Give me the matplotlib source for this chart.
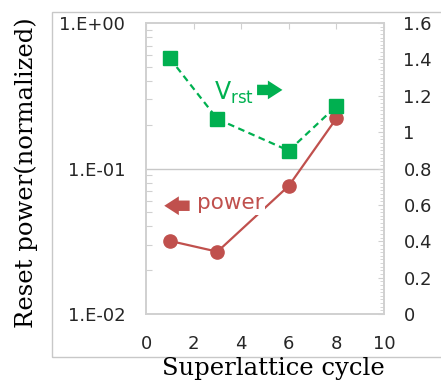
import numpy as np
import matplotlib.pyplot as plt
from matplotlib.patches import Rectangle
from matplotlib.ticker import MultipleLocator, LogLocator, NullFormatter

# data
cycles = [1, 3, 6, 8]
power = [0.0318, 0.0268, 0.076, 0.221]   # left axis, log
vrst = [1.406, 1.072, 0.898, 1.143]      # right axis, linear
left_ticks = [0.01, 0.1, 1.0]
left_labels = ["1.E-02", "1.E-01", "1.E+00"]

green = "#00b050"
red = "#c0504d"
spine_col = "#d0d0d0"
txt_col = "#262626"

fig = plt.figure(figsize=(4.41, 3.83), dpi=100)

# light outer frame
fig.patches.append(Rectangle((52 / 441, 1 - 357 / 383), 1.0, 345 / 383,
                             transform=fig.transFigure, fill=False,
                             edgecolor="#c8c8c8", linewidth=1.0))

ax = fig.add_axes([146 / 441, 1 - 314 / 383, 238 / 441, 291 / 383])
ax.set_yscale("log")
ax.set_ylim(0.01, 1.0)
ax.set_xlim(0, 10)
ax.set_yticks(left_ticks)
ax.set_yticklabels(left_labels)
ax.yaxis.set_minor_locator(LogLocator(base=10, subs=np.arange(2, 10)))
ax.yaxis.set_minor_formatter(NullFormatter())
ax.set_xticks([0, 2, 4, 6, 8, 10])
ax.axhline(0.1, color="#c8c8c8", linewidth=1.0, zorder=1)

ax.tick_params(axis="y", which="major", length=0, pad=15, labelsize=13,
               labelcolor=txt_col)
ax.tick_params(axis="y", which="minor", direction="in", length=4,
               color=spine_col, width=0.8)
ax.tick_params(axis="x", which="major", direction="in", length=4,
               color=spine_col, width=0.8, top=True, bottom=False,
               pad=15, labelsize=13, labelcolor=txt_col)
for s in ax.spines.values():
    s.set_color(spine_col)
    s.set_linewidth(1.2)

ax.plot(cycles, power, color=red, marker="o", markersize=9.5,
        linewidth=1.6, zorder=3)

ax2 = ax.twinx()
ax2.set_ylim(0, 1.6)
ax2.yaxis.set_minor_locator(MultipleLocator(0.02))
ax2.set_yticks([0, 0.2, 0.4, 0.6, 0.8, 1.0, 1.2, 1.4, 1.6])
ax2.set_yticklabels(["0", "0.2", "0.4", "0.6", "0.8", "1", "1.2", "1.4", "1.6"])
ax2.tick_params(axis="y", which="major", direction="in", length=4,
                color=spine_col, pad=14, labelsize=13, labelcolor=txt_col)
ax2.tick_params(axis="y", which="minor", direction="in", length=3,
                color=spine_col, width=0.6)
for s in ax2.spines.values():
    s.set_color(spine_col)
    s.set_linewidth(1.2)

ax2.plot(cycles, vrst, color=green, marker="s", markersize=10,
         linewidth=1.6, linestyle=(0, (3, 2)), zorder=3)

# annotations
arrow = "simple,head_width=0.9,head_length=0.7,tail_width=0.5"
ax2.text(0.285, 0.76, r"V$_{\rm rst}$", transform=ax.transAxes, color=green,
         fontsize=17, va="center", ha="left")
ax2.annotate("", xy=(0.585, 0.77), xytext=(0.455, 0.77),
             xycoords="axes fraction",
             arrowprops=dict(arrowstyle=arrow, color=green, lw=0,
                             mutation_scale=15))
ax2.text(0.215, 0.38, "power", transform=ax.transAxes, color=red,
         fontsize=15.5, va="center", ha="left",
         bbox=dict(facecolor="white", edgecolor="none", pad=1))
ax2.annotate("", xy=(0.065, 0.372), xytext=(0.195, 0.372),
             xycoords="axes fraction",
             arrowprops=dict(arrowstyle=arrow, color=red, lw=0,
                             mutation_scale=15))

fig.text(26 / 441, 1 - 173 / 383, "Reset power(normalized)", rotation=90,
         family="DejaVu Serif", fontsize=17.5, ha="center", va="center")
fig.text(273 / 441, 1 - 369 / 383, "Superlattice cycle",
         family="DejaVu Serif", fontsize=17.5, ha="center", va="center")

fig.savefig("out.png", dpi=100)
